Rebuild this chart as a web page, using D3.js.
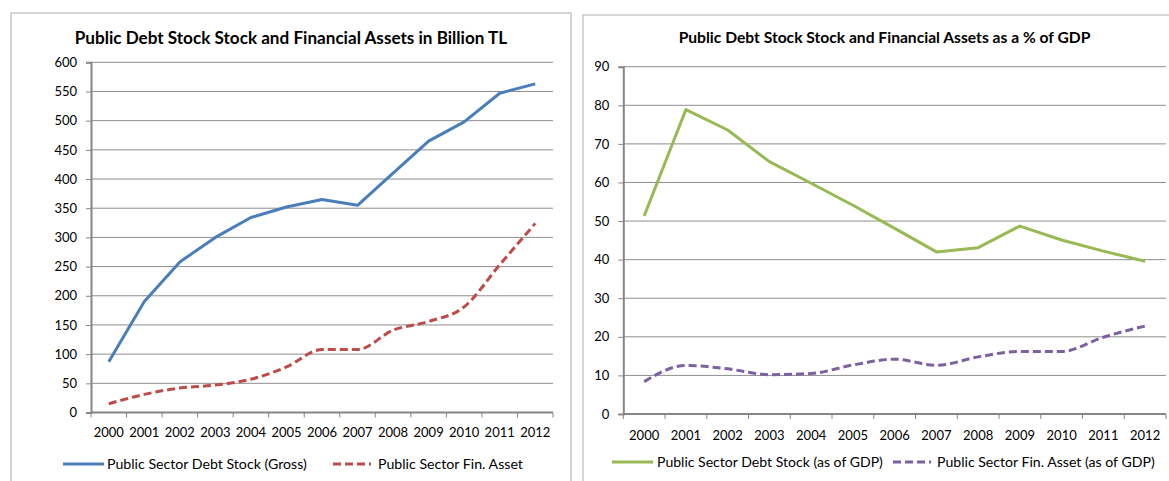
<!DOCTYPE html>
<html><head><meta charset="utf-8">
<script src="https://cdn.jsdelivr.net/npm/d3@7"></script>
<style>
body{margin:0;background:#fff}
text{font-family:Lato,"Open Sans",sans-serif;fill:#000}
</style></head>
<body><svg id="c" width="1169" height="481"></svg>
<script>
const years = ["2000","2001","2002","2003","2004","2005","2006","2007","2008","2009","2010","2011","2012"];
const debtStockBn = [87, 190, 258, 300, 334, 352, 365, 355, 410, 465, 498, 547, 563];
const finAssetBn = [15, 31, 42, 47, 57, 78, 108, 108, 141, 156, 181, 253, 324];
const debtStockGdp = [51.3, 78.9, 73.6, 65.4, 59.8, 54.1, 48.1, 42.0, 43.1, 48.7, 45.1, 42.2, 39.6];
const finAssetGdp = [8.4, 12.6, 11.7, 10.2, 10.5, 12.7, 14.2, 12.6, 14.8, 16.2, 16.2, 19.9, 22.8];
const ticksBn = [0,50,100,150,200,250,300,350,400,450,500,550,600];
const ticksGdp = [0,10,20,30,40,50,60,70,80,90];

const svg = d3.select("#c");

function fitText(t, w, max){
  let fs = max; t.attr("font-size", fs);
  const len = t.node().getComputedTextLength();
  fs = fs * w / len; t.attr("font-size", fs);
}

function panel(cfg){
  const g = svg.append("g");
  g.append("rect").attr("x",cfg.box[0]).attr("y",cfg.box[1]).attr("width",cfg.box[2]).attr("height",cfg.box[3])
    .attr("fill","#fff").attr("stroke","#b9b9b9").attr("stroke-width",1.2);
  const title = g.append("text").attr("x",cfg.titleX).attr("y",38).attr("dy","0.35em")
    .attr("text-anchor","middle").attr("font-weight","bold").text(cfg.title);
  fitText(title, cfg.titleW, 15);

  const x = d3.scaleBand().domain(years).range([cfg.x0, cfg.x1]);
  const y = d3.scaleLinear().domain([0, cfg.ymax]).range([cfg.y0, cfg.y1]);

  g.append("g").selectAll("line").data(cfg.ticks.filter(d=>d>0)).join("line")
    .attr("x1",cfg.x0).attr("x2",cfg.x1).attr("y1",d=>y(d)).attr("y2",d=>y(d))
    .attr("stroke","#8e8e8e").attr("stroke-width",1);

  const ya = g.append("g").attr("transform",`translate(${cfg.x0},0)`)
    .call(d3.axisLeft(y).tickValues(cfg.ticks).tickSize(5).tickPadding(9));
  ya.select(".domain").attr("stroke","#868686").attr("stroke-width",2);
  ya.selectAll(".tick line").attr("stroke","#868686");
  ya.selectAll("text").attr("font-size",13).attr("fill","#000").attr("font-family","Lato");

  const xa = g.append("g").attr("transform",`translate(0,${cfg.y0})`);
  xa.append("line").attr("x1",cfg.x0).attr("x2",cfg.x1).attr("stroke","#868686").attr("stroke-width",2);
  const edges = years.map(d=>x(d)).concat([cfg.x1]);
  xa.selectAll("line.t").data(edges).join("line").attr("class","t")
    .attr("x1",d=>d).attr("x2",d=>d).attr("y1",0).attr("y2",5).attr("stroke","#868686");
  xa.selectAll("text").data(years).join("text")
    .attr("x",d=>x(d)+x.bandwidth()/2).attr("y",cfg.labelY - cfg.y0).attr("dy","0.35em")
    .attr("text-anchor","middle").attr("font-size",13).text(d=>d);

  cfg.series.forEach(s=>{
    const line = d3.line().x((d,i)=>x(years[i])+x.bandwidth()/2).y(d=>y(d))
      .curve(s.smooth ? d3.curveMonotoneX : d3.curveLinear);
    g.append("path").datum(s.values).attr("d",line).attr("fill","none")
      .attr("stroke",s.color).attr("stroke-width",3).attr("stroke-linejoin","round")
      .attr("stroke-dasharray", s.dash ? "8,4" : null);
    g.append("line").attr("x1",s.lx[0]).attr("x2",s.lx[1]).attr("y1",cfg.legendY).attr("y2",cfg.legendY)
      .attr("stroke",s.color).attr("stroke-width",3).attr("stroke-dasharray", s.dash ? "8,4" : null);
    const lt = g.append("text").attr("x",s.lx[2]).attr("y",cfg.legendY).attr("dy","0.35em").text(s.name);
    fitText(lt, s.lw, 13);
  });
}

panel({
  box:[11,13,560,500], title:"Public Debt Stock Stock and Financial Assets in Billion TL",
  titleX:291, titleW:433, x0:91, x1:553, y0:412.5, y1:62.3, ymax:600, ticks:ticksBn,
  labelY:432, legendY:464,
  series:[
    {name:"Public Sector Debt Stock (Gross)", values:debtStockBn, color:"#4a7ebb", dash:false, smooth:false, lx:[63,104,107], lw:200},
    {name:"Public Sector Fin. Asset", values:finAssetBn, color:"#be4b48", dash:true, smooth:true, lx:[333,371,378], lw:145}
  ]
});
panel({
  box:[583,15,620,500], title:"Public Debt Stock Stock and Financial Assets as a % of GDP",
  titleX:884.5, titleW:412, x0:623.3, x1:1166, y0:414, y1:66.7, ymax:90, ticks:ticksGdp,
  labelY:435, legendY:462,
  series:[
    {name:"Public Sector Debt Stock (as of GDP)", values:debtStockGdp, color:"#98b954", dash:false, smooth:false, lx:[612,653,657], lw:226},
    {name:"Public Sector Fin. Asset (as of GDP)", values:finAssetGdp, color:"#7d60a0", dash:true, smooth:true, lx:[893,931,937], lw:218}
  ]
});
</script></body></html>
